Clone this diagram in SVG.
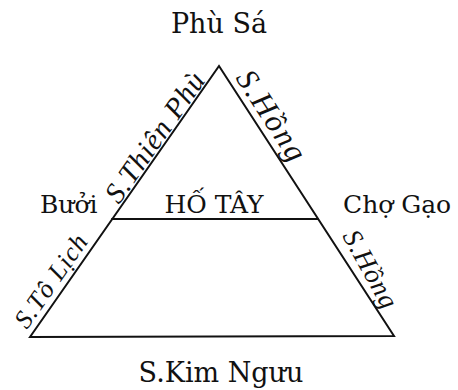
<svg xmlns="http://www.w3.org/2000/svg" width="458" height="390" viewBox="0 0 458 390">
<style>
.lbl{font-family:"DejaVu Serif","Liberation Serif",serif;font-size:25px;fill:#111}
.big{font-size:27px}
.hw{font-family:"Liberation Serif","DejaVu Serif",serif;font-style:italic;fill:#111}
.ln{stroke:#111;stroke-width:2;fill:none;stroke-linecap:round;stroke-linejoin:miter}
</style>
<rect width="458" height="390" fill="#fff"/>
<g id="connectors">
<path class="ln" d="M30,337 L219,66 L394,336 Z"/>
<line class="ln" x1="112" y1="219" x2="318" y2="219"/>
</g>
<g id="phu-sa"><text class="lbl big" x="219" y="33" text-anchor="middle">Phù Sá</text></g>
<g id="buoi"><text class="lbl" x="40" y="213">Bưởi</text></g>
<g id="ho-tay"><text class="lbl" x="214" y="213" text-anchor="middle">HỐ TÂY</text></g>
<g id="cho-gao"><text class="lbl" x="343" y="213">Chợ Gạo</text></g>
<g id="kim-nguu"><text class="lbl big" x="221" y="382" text-anchor="middle">S.Kim Ngưu</text></g>
<g id="thien-phu"><text class="hw" font-size="29" letter-spacing="1" transform="translate(119,205) rotate(-55)">S.Thiên Phù</text></g>
<g id="to-lich"><text class="hw" font-size="26" letter-spacing="1" transform="translate(27,330) rotate(-55)">S.Tô Lịch</text></g>
<g id="hong-1"><text class="hw" font-size="31" letter-spacing="2" transform="translate(235,78) rotate(57)">S.Hồng</text></g>
<g id="hong-2"><text class="hw" font-size="27" letter-spacing="1" transform="translate(342,236) rotate(61)">S.Hồng</text></g>
</svg>
